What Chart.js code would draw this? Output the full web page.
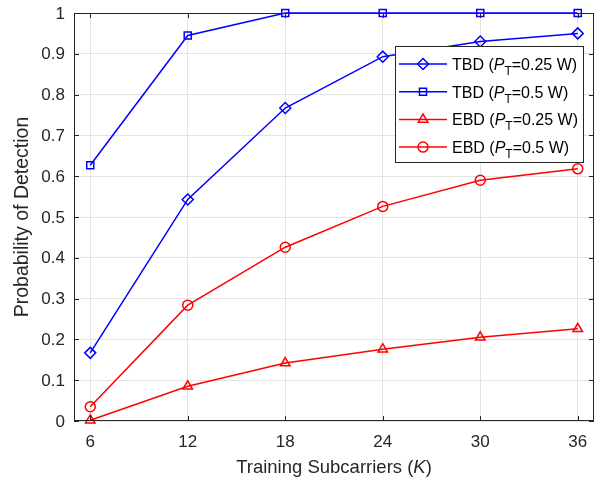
<!DOCTYPE html>
<html><head><meta charset="utf-8">
<script src="https://cdn.jsdelivr.net/npm/chart.js@4.4.0/dist/chart.umd.min.js"></script>
<style>html,body{margin:0;padding:0;background:#fff}#wrap{width:606px;height:483px}</style>
</head><body><div id="wrap"><canvas id="c" width="606" height="483"></canvas></div>
<script>
const subcarriers = [6, 12, 18, 24, 30, 36];
const tbd025 = [0.167, 0.543, 0.767, 0.893, 0.930, 0.950];
const tbd05  = [0.627, 0.945, 1.000, 1.000, 1.000, 1.000];
const ebd025 = [0.002, 0.085, 0.142, 0.176, 0.205, 0.226];
const ebd05  = [0.035, 0.284, 0.426, 0.526, 0.590, 0.618];
const yTicks = [0, 0.1, 0.2, 0.3, 0.4, 0.5, 0.6, 0.7, 0.8, 0.9, 1];
const xTickLabels = ['6', '12', '18', '24', '30', '36'];
const yTickLabels = ['0', '0.1', '0.2', '0.3', '0.4', '0.5', '0.6', '0.7', '0.8', '0.9', '1'];
const legendNames = [["TBD", "0.25 W"], ["TBD", "0.5 W"], ["EBD", "0.25 W"], ["EBD", "0.5 W"]];

const FONT = '"Liberation Sans", Arial, sans-serif';
const mk = (arr) => subcarriers.map((x, i) => ({x, y: arr[i]}));
const BLUE = '#0000ff', RED = '#ff0000';
function ds(label, data, color, style, r) {
  return {label, data: mk(data), borderColor: color, backgroundColor: 'rgba(0,0,0,0)',
    borderWidth: 1.5, pointStyle: style, pointRadius: r,
    pointBorderColor: color, pointBorderWidth: 1.5, pointBackgroundColor: 'rgba(0,0,0,0)',
    tension: 0, clip: false};
}

const extras = {
  id: 'extras',
  afterDraw(chart) {
    const ctx = chart.ctx, a = chart.chartArea;
    const xs = chart.scales.x, ys = chart.scales.y;
    ctx.save();
    ctx.strokeStyle = '#262626'; ctx.lineWidth = 1;
    ctx.strokeRect(Math.round(a.left) + 0.5, Math.round(a.top) + 0.5, Math.round(a.right - a.left) - 1, Math.round(a.bottom - a.top) - 1);
    ctx.beginPath();
    subcarriers.forEach(v => { const x = Math.round(xs.getPixelForValue(v)) + 0.5;
      ctx.moveTo(x, a.bottom); ctx.lineTo(x, a.bottom - 5); ctx.moveTo(x, a.top); ctx.lineTo(x, a.top + 5); });
    yTicks.forEach(v => { const y = Math.round(ys.getPixelForValue(v)) + 0.5;
      ctx.moveTo(a.left, y); ctx.lineTo(a.left + 5, y); ctx.moveTo(a.right, y); ctx.lineTo(a.right - 5, y); });
    ctx.stroke();
    // tick labels
    ctx.fillStyle = '#262626';
    ctx.font = '17px ' + FONT;
    ctx.textAlign = 'center'; ctx.textBaseline = 'alphabetic';
    subcarriers.forEach((v, i) => ctx.fillText(xTickLabels[i], xs.getPixelForValue(v), 447));
    ctx.textAlign = 'right'; ctx.textBaseline = 'middle';
    yTicks.forEach((v, i) => ctx.fillText(yTickLabels[i], a.left - 9, ys.getPixelForValue(v) + 1));
    // x title
    ctx.textAlign = 'left'; ctx.textBaseline = 'alphabetic';
    const TS = 18.5;
    const t1 = 'Training Subcarriers (', t2 = 'K', t3 = ')';
    ctx.font = TS + 'px ' + FONT; const w1 = ctx.measureText(t1).width, w3 = ctx.measureText(t3).width;
    ctx.font = 'italic ' + TS + 'px ' + FONT; const w2 = ctx.measureText(t2).width;
    let x0 = (a.left + a.right) / 2 - (w1 + w2 + w3) / 2, yb = 473;
    ctx.font = TS + 'px ' + FONT; ctx.fillText(t1, x0, yb);
    ctx.font = 'italic ' + TS + 'px ' + FONT; ctx.fillText(t2, x0 + w1, yb);
    ctx.font = TS + 'px ' + FONT; ctx.fillText(t3, x0 + w1 + w2, yb);
    // y title
    ctx.save(); ctx.translate(28, (a.top + a.bottom) / 2); ctx.rotate(-Math.PI / 2);
    ctx.textAlign = 'center'; ctx.font = '19.5px ' + FONT; ctx.fillText('Probability of Detection', 0, 0);
    ctx.restore();
    // legend
    const lx = 395.5, ly = 46.5, lw = 188, lh = 116;
    ctx.fillStyle = '#fff'; ctx.fillRect(lx, ly, lw, lh);
    ctx.strokeStyle = '#262626'; ctx.lineWidth = 1; ctx.strokeRect(lx, ly, lw, lh);
    chart.data.datasets.forEach((d, i) => {
      const cy = 64 + i * 27.7;
      ctx.strokeStyle = d.borderColor; ctx.lineWidth = 1.5;
      ctx.beginPath(); ctx.moveTo(399, cy); ctx.lineTo(447, cy); ctx.stroke();
      ctx.fillStyle = 'rgba(0,0,0,0)';
      Chart.helpers.drawPoint(ctx, {pointStyle: d.pointStyle, radius: d.pointRadius, borderWidth: 1.5}, 423, cy);
      ctx.fillStyle = '#000'; ctx.textAlign = 'left'; ctx.textBaseline = 'alphabetic';
      const [nm, val] = legendNames[i];
      let x = 452; const base = cy + 6;
      ctx.font = '16px ' + FONT; ctx.fillText(nm + ' (', x, base); x += ctx.measureText(nm + ' (').width;
      ctx.font = 'italic 16px ' + FONT; ctx.fillText('P', x, base); x += ctx.measureText('P').width;
      ctx.font = '12px ' + FONT; ctx.fillText('T', x, base + 5); x += ctx.measureText('T').width;
      ctx.font = '16px ' + FONT; ctx.fillText('=' + val + ')', x, base);
    });
    ctx.restore();
  }
};

new Chart(document.getElementById('c'), {
  type: 'line',
  data: {datasets: [
    ds('TBD (PT=0.25 W)', tbd025, BLUE, 'rectRot', 5.5),
    ds('TBD (PT=0.5 W)', tbd05, BLUE, 'rect', 5),
    ds('EBD (PT=0.25 W)', ebd025, RED, 'triangle', 5.5),
    ds('EBD (PT=0.5 W)', ebd05, RED, 'circle', 5)
  ]},
  options: {
    responsive: false, animation: false, devicePixelRatio: 1,
    layout: {padding: {left: 0, right: 12, top: 13, bottom: 0}},
    plugins: {legend: {display: false}, tooltip: {enabled: false}},
    scales: {
      x: {type: 'linear', min: 5, max: 37,
        afterBuildTicks: s => { s.ticks = subcarriers.map(v => ({value: v})); },
        afterFit: s => { s.height = 62; },
        grid: {color: '#e3e3e3', drawTicks: false, lineWidth: 1},
        border: {display: false},
        ticks: {display: false}},
      y: {type: 'linear', min: 0, max: 1,
        afterBuildTicks: s => { s.ticks = yTicks.map(v => ({value: v})); },
        afterFit: s => { s.width = 74; },
        grid: {color: '#e3e3e3', drawTicks: false, lineWidth: 1},
        border: {display: false},
        ticks: {display: false}}
    }
  },
  plugins: [extras]
});
</script></body></html>
